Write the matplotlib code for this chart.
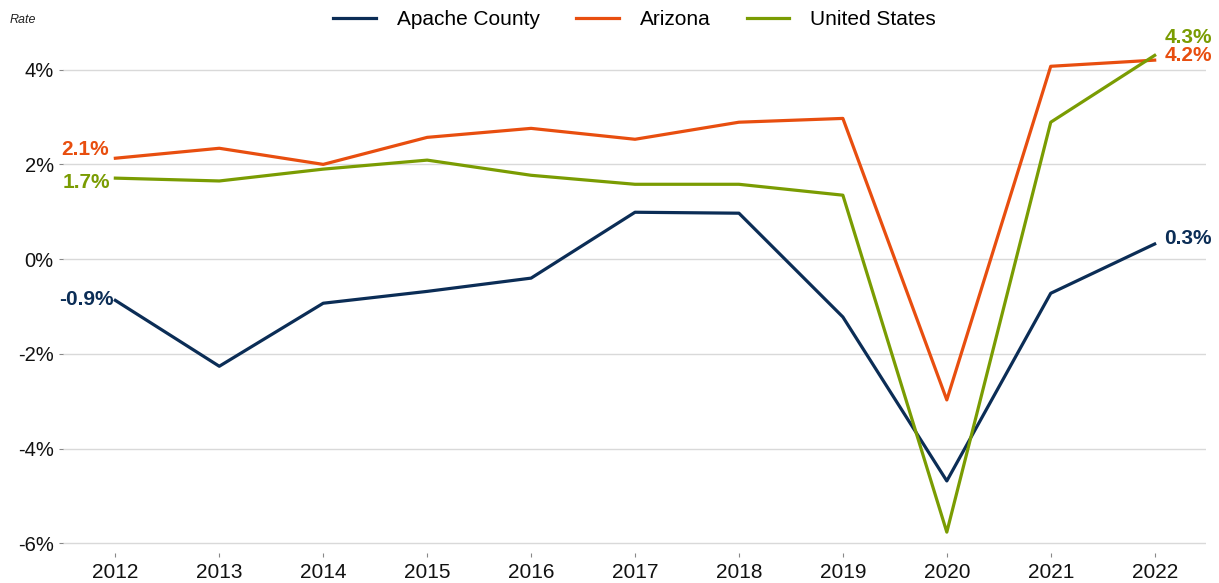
import matplotlib
matplotlib.use('Agg')
import matplotlib.pyplot as plt

years = [2012, 2013, 2014, 2015, 2016, 2017, 2018, 2019, 2020, 2021, 2022]
apache = [-0.87, -2.26, -0.93, -0.68, -0.40, 0.99, 0.97, -1.22, -4.68, -0.72, 0.32]
arizona = [2.13, 2.34, 2.00, 2.57, 2.76, 2.53, 2.89, 2.97, -2.97, 4.07, 4.20]
us = [1.71, 1.65, 1.90, 2.09, 1.77, 1.58, 1.58, 1.35, -5.76, 2.89, 4.30]
y_ticks = [-6, -4, -2, 0, 2, 4]

series = [
    ('Apache County', apache, '#0b2d56'),
    ('Arizona', arizona, '#e84e0f'),
    ('United States', us, '#7a9c02'),
]

plt.rcParams['font.family'] = ['Liberation Sans', 'DejaVu Sans']

fig = plt.figure(figsize=(12.19, 5.83), dpi=100)
ax = fig.add_axes([0.052, 0.0515, 0.937, 0.8795])

for name, vals, color in series:
    ax.plot(years, vals, color=color, linewidth=2.3, label=name, zorder=3)

# start / end labels
start_offsets = {'Apache County': (-1, 1), 'Arizona': (-5, 6), 'United States': (-4, -3)}
end_offsets = {'Apache County': 4, 'Arizona': 3, 'United States': 13}
for name, vals, color in series:
    ax.annotate(f'{vals[0]:.1f}%', (years[0], vals[0]),
                xytext=start_offsets[name], textcoords='offset points',
                ha='right', va='center', fontsize=15, fontweight='bold', color=color)
    ax.annotate(f'{vals[-1]:.1f}%', (years[-1], vals[-1]),
                xytext=(7, end_offsets[name]), textcoords='offset points',
                ha='left', va='center', fontsize=15, fontweight='bold', color=color)

ax.set_xlim(2011.5, 2022.49)
ax.set_ylim(-6.2, 4.62)
ax.set_xticks(years)
ax.set_xticklabels([str(y) for y in years], fontsize=15, color='#111111')
ax.set_yticks(y_ticks)
ax.set_yticklabels([f'{t}%' for t in y_ticks], fontsize=14.5, color='#111111')
ax.grid(axis='y', color='#d9d9d9', linewidth=1.0, zorder=0)
for s in ax.spines.values():
    s.set_visible(False)
ax.tick_params(axis='both', length=3, width=0.8, color='#888888', pad=4)

fig.text(0.008, 0.965, 'Rate', fontsize=9, fontstyle='italic', color='#222222',
         va='center')

ax.legend(loc='lower center', bbox_to_anchor=(0.5, 1.006), ncol=3, frameon=False,
          fontsize=15, handlelength=2.05, columnspacing=1.75, handletextpad=1.0,
          borderaxespad=0.0)

fig.savefig('out.png', dpi=100, facecolor='white')
